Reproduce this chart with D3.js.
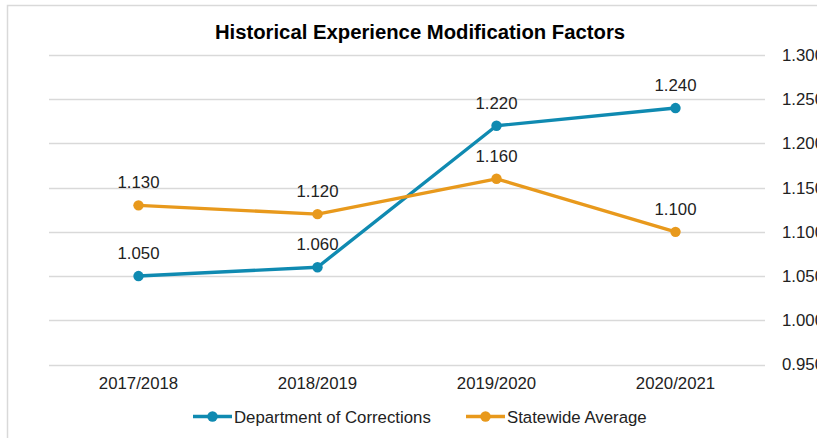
<!DOCTYPE html>
<html><head><meta charset="utf-8">
<script src="https://cdn.jsdelivr.net/npm/d3@7"></script>
<style>body{margin:0;background:#fff;} text{font-family:"Liberation Sans",Arial,sans-serif;}</style>
</head><body>
<svg id="c" width="817" height="438"></svg>
<script>
const categories = ["2017/2018","2018/2019","2019/2020","2020/2021"];
const corrections = [1.050,1.060,1.220,1.240];
const statewide = [1.130,1.120,1.160,1.100];
const yTicks = [0.95,1.00,1.05,1.10,1.15,1.20,1.25,1.30];
const seriesNames = ["Department of Corrections","Statewide Average"];
const colors = ["#0f8ab1","#e8991c"];
const FS = 16.8;

const svg = d3.select("#c");
svg.append("rect").attr("x",7.5).attr("y",5.5).attr("width",900).attr("height",500)
  .attr("fill","#fff").attr("stroke","#d9d9d9").attr("stroke-width",1.5);

const x = d3.scaleBand().domain(categories).range([49,765]);
const y = d3.scaleLinear().domain([0.95,1.30]).range([364.5,55]);

svg.append("g").selectAll("line").data(yTicks).join("line")
  .attr("x1",49).attr("x2",765).attr("y1",d=>Math.round(y(d))+0.5).attr("y2",d=>Math.round(y(d))+0.5)
  .attr("stroke","#d9d9d9").attr("stroke-width",1.3);

const yAxis = d3.axisRight(y).tickValues(yTicks).tickFormat(d3.format(".3f")).tickSize(0).tickPadding(0);
const ya = svg.append("g").attr("transform","translate(782,0)").call(yAxis);
ya.select(".domain").remove();
ya.selectAll("text").attr("font-size",FS).attr("fill","#222").attr("font-family","Liberation Sans, Arial, sans-serif");

const xAxis = d3.axisBottom(x).tickSize(0).tickPadding(0);
const xa = svg.append("g").attr("transform","translate(0,377)").call(xAxis);
xa.select(".domain").remove();
xa.selectAll("text").attr("font-size",FS).attr("fill","#222").attr("font-family","Liberation Sans, Arial, sans-serif");

svg.append("text").attr("x",420).attr("y",38.5).attr("text-anchor","middle")
  .attr("font-size",20.3).attr("font-weight","bold").attr("fill","#000")
  .text("Historical Experience Modification Factors");

const cx = d => x(d) + x.bandwidth()/2;
const line = d3.line().x(d=>cx(d[0])).y(d=>y(d[1]));
[corrections, statewide].forEach((vals,i)=>{
  const pts = categories.map((c,j)=>[c,vals[j]]);
  svg.append("path").datum(pts).attr("d",line).attr("fill","none")
    .attr("stroke",colors[i]).attr("stroke-width",3.4).attr("stroke-linejoin","round");
  svg.selectAll(null).data(pts).join("circle").attr("cx",d=>cx(d[0])).attr("cy",d=>y(d[1]))
    .attr("r",5.2).attr("fill",colors[i]);
  svg.selectAll(null).data(pts).join("text").attr("x",d=>cx(d[0])).attr("y",d=>y(d[1])-17)
    .attr("text-anchor","middle").attr("font-size",FS).attr("fill","#222")
    .text(d=>d3.format(".3f")(d[1]));
});

// legend
const legX = [193,466];
seriesNames.forEach((n,i)=>{
  const lg = svg.append("g").attr("transform",`translate(${legX[i]},416.5)`);
  lg.append("line").attr("x1",0).attr("x2",39).attr("y1",0).attr("y2",0)
    .attr("stroke",colors[i]).attr("stroke-width",3.4);
  lg.append("circle").attr("cx",19.5).attr("cy",0).attr("r",5.2).attr("fill",colors[i]);
  lg.append("text").attr("x",41).attr("y",6).attr("font-size",FS).attr("fill","#222").text(n);
});
</script>
</body></html>
